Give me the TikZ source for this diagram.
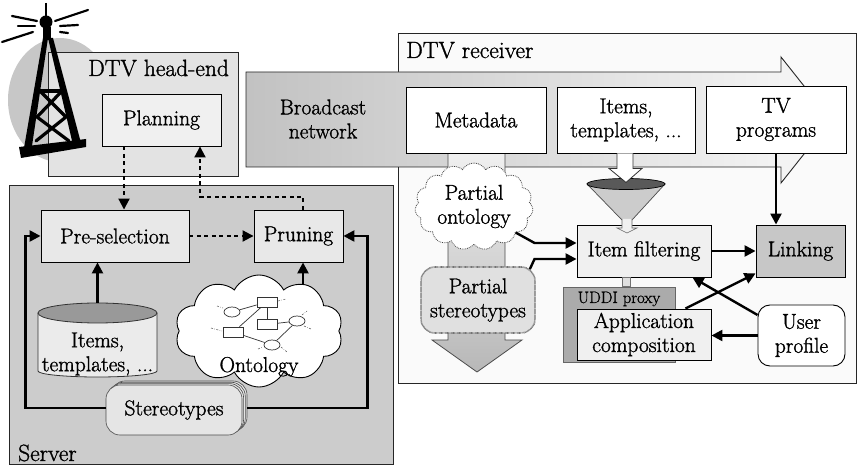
\documentclass[tikz,border=0pt]{standalone}
\usepackage{fontspec}
\setmainfont{Latin Modern Roman}[FakeBold=1.3]
\usetikzlibrary{arrows.meta,shapes.symbols,shapes.geometric}
\newcommand{\txtbody}{\rmfamily\fontsize{21.5bp}{24bp}\selectfont}
\newcommand{\txthead}{\rmfamily\fontsize{23.5bp}{26bp}\selectfont}
\newcommand{\txtsmall}{\rmfamily\fontsize{16.5bp}{18bp}\selectfont}
\begin{document}
\begin{tikzpicture}[x=1bp, y=-1bp,
  frame/.style={draw=black!85, line width=0.9bp, inner sep=0pt},
  box/.style={draw=black, line width=0.9bp, inner sep=0pt, align=center, font=\txtbody},
  tip/.style={-{Triangle[length=11bp,width=11bp]}},
  arr/.style={line width=2.4bp, tip},
  dasharr/.style={line width=2bp, dash pattern=on 4bp off 3.5bp, tip},
  ray/.style={line width=2.2bp, line cap=round},
  lattice/.style={line width=3.2bp, line cap=round, line join=round},
  graphbox/.style={draw=black!80, fill=white, line width=0.7bp, minimum width=20bp, minimum height=10bp, inner sep=0pt},
  graphnode/.style={draw=black!80, fill=white, line width=0.7bp, ellipse, minimum width=16bp, minimum height=10bp, inner sep=0pt},
  graphedge/.style={line width=0.7bp, black!80},
  stub/.style={line width=0.6bp, black!60, dash pattern=on 2bp off 1.5bp on 0.5bp off 1.5bp},
  layer/.style={draw=black!70, fill=black!10, line width=0.6bp, rounded corners=14bp, minimum width=136bp, minimum height=50bp, inner sep=0pt},
]
\useasboundingbox (0,0) rectangle (861,473);

% ---------- head-end with transmitter ----------
\fill[black!22] (60,100) ellipse [x radius=52, y radius=62];
\node[frame, fill=black!11, minimum width=190bp, minimum height=124bp] (headend) at (143,114) {};
\node[font=\txthead, anchor=base west, inner sep=0pt] (headendlbl) at (88,76) {DTV head-end};

% mast
\fill (43,38) -- (48,38) -- (32,146) -- (24,148) -- cycle;
\fill (48,38) -- (53,38) -- (81,143) -- (73,145) -- cycle;
\draw[lattice] (40,91) -- (62,91);
\draw[lattice] (40,91) -- (66,117) -- (36,141);
\draw[lattice] (62,91) -- (37,117) -- (69,141);
\fill (19,147) -- (86,139) -- (86,147) -- (21,158) -- cycle;
\fill (43,27) rectangle (51,40);
\fill (46,22) circle [radius=6.5bp];
\draw[line width=2.5bp] (46,3) -- (46,16);
\draw[ray] (12,16) -- (37,21);
\draw[ray] (18,26) -- (35,26);
\draw[ray] (2,42) -- (33,32);
\draw[ray] (55,21) -- (88,10);
\draw[ray] (60,26) -- (78,25);
\draw[ray] (60,32) -- (68,33);

% ---------- containers ----------
\node[frame, fill=black!20, minimum width=384bp, minimum height=279bp] (server) at (201,324.5) {};
\node[font=\txthead, anchor=base west, inner sep=0pt] (serverlbl) at (18,461) {Server};
\node[frame, fill=black!2, minimum width=458bp, minimum height=350bp] (receiver) at (627,208) {};
\node[font=\txthead, anchor=base west, inner sep=0pt] (receiverlbl) at (406,58) {DTV receiver};

% ---------- broadcast network ----------
\path[draw=black!85, line width=0.9bp, left color=black!24, right color=black!3]
  (246,72) -- (781,72) -- (781,57) -- (831,120) -- (781,183) -- (781,167) -- (246,167) -- cycle;
\node[font=\txtbody, align=center, inner sep=0pt] (bnet) at (323,119) {Broadcast\\network};

% metadata flow downwards
\path[draw=black!70, line width=0.8bp, top color=black!6, bottom color=black!28]
  (448,153) -- (505,153) -- (505,340) -- (522,340) -- (477,372) -- (432,340) -- (448,340) -- cycle;

% ---------- boxes ----------
\node[box, fill=black!6, minimum width=119bp, minimum height=52bp] (plan) at (161.5,120) {Planning};
\node[box, fill=black!9, minimum width=148bp, minimum height=52bp] (pre) at (115,236) {Pre-selection};
\node[box, fill=black!9, minimum width=89bp, minimum height=52bp] (prun) at (298.5,236) {Pruning};
\node[box, fill=white, minimum width=140bp, minimum height=66bp] (meta) at (476,120) {Metadata};
\node[box, fill=white, minimum width=138bp, minimum height=66bp] (itm) at (626,120) {Items,\\templates, ...};
\node[box, fill=white, minimum width=140bp, minimum height=67bp] (tv) at (776,119.5) {TV\\programs};
\node[box, fill=black!6, minimum width=134bp, minimum height=52bp] (filt) at (644,251) {Item filtering};
\node[box, fill=black!22, minimum width=89bp, minimum height=52bp] (link) at (800.5,251) {Linking};
\node[box, fill=black!33, draw=black!60, minimum width=112bp, minimum height=75bp] (uddi) at (619,324.5) {};
\node[font=\txtsmall, inner sep=0pt] (uddilbl) at (619,299) {UDDI proxy};
\node[box, fill=black!6, minimum width=134bp, minimum height=51bp] (app) at (644,334.5) {Application\\composition};
\node[box, fill=white, rounded corners=12bp, minimum width=87bp, minimum height=61bp] (user) at (801.5,335.5) {User\\profile};

% link between item filtering and the proxy
\path[draw=black!55, fill=black!12, line width=0.6bp]
  ([xshift=-22bp]filt.south) rectangle ([xshift=-14bp]filt.south |- uddi.north);

% funnel feeding item filtering
\path[draw=black!70, fill=black!20, line width=0.7bp] (587,184) -- (622,220) -- (632,220) -- (665,184) -- cycle;
\path[draw=black!60, fill=black!6, line width=0.6bp]
  (622,219) -- (622,228) -- (617,228) -- (627,233) -- (637,228) -- (632,228) -- (632,219);
\path[draw=black, fill=black!65, line width=0.7bp] (626,184) ellipse [x radius=39, y radius=5.5];
\path[draw=black!80, fill=white, line width=0.8bp]
  ([xshift=-9bp]itm.south) -- ([xshift=-9bp,yshift=-15bp]itm.south) -- ([xshift=-17bp,yshift=-15bp]itm.south)
  -- ([yshift=-29bp]itm.south) -- ([xshift=16bp,yshift=-15bp]itm.south) -- ([xshift=7bp,yshift=-15bp]itm.south)
  -- ([xshift=7bp]itm.south);

% ---------- connectors ----------
\draw[dasharr] ([xshift=-37.5bp]plan.south) -- ([xshift=-37.5bp]plan.south |- pre.north);
\draw[dasharr] ([xshift=4.5bp]prun.north) -- ++(0,-13) -| ([xshift=38.5bp]plan.south);
\draw[dasharr] (pre.east) -- (prun.west);

\draw[arr] (tv.south) -- (tv.south |- link.north);
\draw[arr] (filt.east) -- (link.west);
\draw[arr] (user.west) -- (user.west -| app.east);
\draw[arr] (user.155) -- ([xshift=-19bp]filt.south east);
\draw[arr] ([xshift=-26bp]app.north east) -- ([yshift=4bp]link.south west);

% ---------- repository ----------
\path[draw=black!80, fill=black!8, line width=0.8bp]
  (38,313) -- (38,371) arc[start angle=180, end angle=0, x radius=59.5, y radius=6] -- (157,313);
\path[draw=black!80, fill=black!40, line width=0.8bp] (97.5,313) ellipse [x radius=59.5, y radius=10];
\node[font=\txtbody, align=center, inner sep=0pt] (cyl) at (97.5,354) {Items,\\templates, ...};
\coordinate (cyltop) at (97.5,303);
\draw[arr] (cyltop) -- (cyltop |- pre.south);

% ---------- ontology ----------
\draw[arr] ([xshift=4.5bp,yshift=-60bp]prun.south) -- ([xshift=4.5bp]prun.south);
\node[cloud, cloud puffs=10, cloud puff arc=125, cloud ignores aspect, draw=black, fill=white,
  line width=0.9bp, minimum width=168bp, minimum height=112bp, inner sep=0pt] (ont) at (259,331) {};
\node[graphbox] (r1) at (267,302) {};
\node[graphbox] (r2) at (267,324.5) {};
\node[graphbox] (r3) at (233.5,332) {};
\node[graphnode] (e1) at (232,312) {};
\node[graphnode] (e2) at (297,321) {};
\node[graphnode] (e3) at (272,345) {};
\draw[graphedge] (e1) -- (r1);
\draw[graphedge] (r1) -- (r2);
\draw[graphedge] (r3) -- (r1);
\draw[graphedge] (r2) -- (e2);
\draw[graphedge] (e2) -- (e3);
\draw[graphedge] (r3) -- (e3);
\draw[stub] (217,306) -- (223,308);
\draw[stub] (278,301) -- (286,299);
\draw[stub] (211,328) -- (222,331);
\draw[stub] (302,315) -- (307,311);
\draw[stub] (304,326) -- (311,329);
\draw[stub] (281,347) -- (287,352);
\draw[stub] (258,349) -- (263,347);
\node[font=\txtbody, anchor=base, inner sep=0pt] (ontlbl) at (259,372) {Ontology};

% ---------- stereotypes ----------
\node[layer] (ster3) at (179,406) {};
\node[layer] (ster2) at (177.3,407.3) {};
\node[layer] (ster1) at (175.6,408.6) {};
\node[layer, font=\txtbody] (ster) at (174,410) {Stereotypes};
\draw[arr] ([yshift=2bp]ster.west) -- ++(-80,0) |- (pre.west);
\draw[arr] ([yshift=-2bp]ster3.east) -- ++(120,0) |- (prun.east);

% ---------- partial knowledge in the receiver ----------
\node[cloud, cloud puffs=15, cloud puff arc=120, cloud ignores aspect, draw=black!75, densely dotted,
  fill=white, line width=0.8bp, minimum width=118bp, minimum height=87bp, inner sep=0pt,
  align=center, font=\txtbody] (pont) at (474,206.5) {Partial\\ontology};
\node[draw=black!55, line width=1.6bp, dash pattern=on 0.6bp off 0.6bp, fill=black!12,
  rounded corners=14bp, minimum width=114bp, minimum height=66bp, inner sep=0pt,
  align=center, font=\txtbody] (pster) at (478,300) {Partial\\stereotypes};
\draw[arr] (pont.-32) -- ([xshift=-42bp,yshift=8bp]filt.west) -- ([yshift=8bp]filt.west);
\draw[arr] ([xshift=-6bp,yshift=-3bp]pster.north east) -- ([xshift=-42bp,yshift=-8bp]filt.west) -- ([yshift=-8bp]filt.west);
\end{tikzpicture}
\end{document}
